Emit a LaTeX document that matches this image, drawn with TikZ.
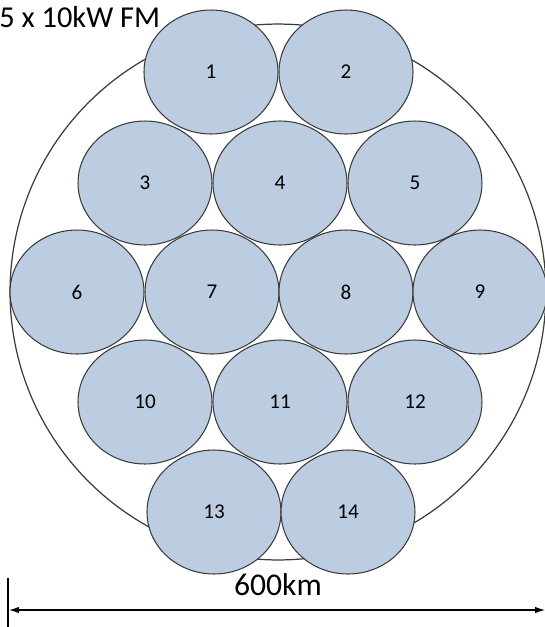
\documentclass[tikz,border=0pt]{standalone}
\usepackage{fontspec}
\setmainfont{Carlito}
\usetikzlibrary{arrows.meta,shapes.geometric}
\definecolor{cellblue}{RGB}{189,205,225}
\definecolor{cellline}{RGB}{60,60,60}

\begin{document}
\begin{tikzpicture}[x=0.02cm, y=-0.02cm, >={Latex[length=0.2cm,width=0.13cm]},
    cell/.style={ellipse, draw=cellline, fill=cellblue, line width=0.6pt,
        minimum width=2.68cm, minimum height=2.48cm, inner sep=0pt,
        font=\fontsize{12}{14}\selectfont}]
    \useasboundingbox (0,0) rectangle (545,627);

    % Coverage area
    \draw[line width=0.7pt, cellline] (278,292) circle (5.36cm);

    % Cells, row by row
    \foreach \n/\cx/\cy in {1/211/72, 2/346/72,
                            3/145/183, 4/280/183, 5/415/183,
                            6/77/292, 7/212/292, 8/346/292, 9/480/292,
                            10/145/402, 11/280/402, 12/415/402,
                            13/214/512, 14/348/512}
        \node[cell] (c\n) at (\cx,\cy) {\n};

    % Title
    \node[anchor=base west, inner sep=0pt, font=\fontsize{17.3}{21}\selectfont] (title) at (-1,27) {5 x 10kW FM};

    % Width
    \coordinate (bartop) at (8,578);
    \coordinate (barbot) at (8,627);
    \coordinate (wleft) at (9,610);
    \coordinate (wright) at (545,610);
    \draw[line width=0.7pt] (bartop) -- (barbot);
    \draw[<->, line width=0.7pt] (wleft) -- (wright);
    \node[font=\fontsize{18}{22}\selectfont, inner sep=0pt] (width) at (278,585) {600km};
\end{tikzpicture}
\end{document}
